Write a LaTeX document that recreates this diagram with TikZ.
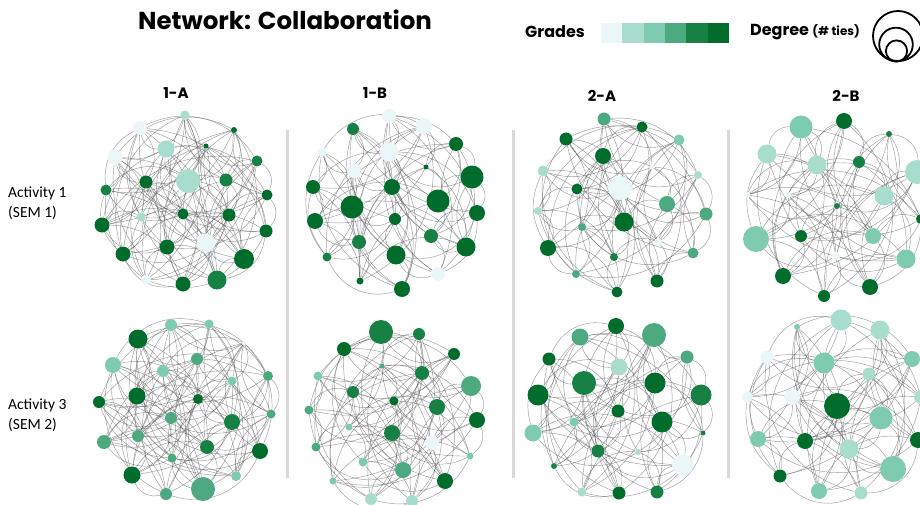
\documentclass[tikz,border=0pt]{standalone}
\usepackage{fontspec}
\usepackage{tikz}
\usetikzlibrary{backgrounds}

\newfontfamily\headfont{Poppins}
\newfontfamily\labfont{Carlito}

\definecolor{g1}{HTML}{EAF6F8}
\definecolor{g2}{HTML}{A8DCCC}
\definecolor{g3}{HTML}{7ECBB0}
\definecolor{g4}{HTML}{4DAA80}
\definecolor{g5}{HTML}{178045}
\definecolor{g6}{HTML}{006D2C}
\definecolor{sepgray}{HTML}{D9D9D9}

\tikzset{
  vtx/.style={circle, inner sep=0pt, draw=none},
  tie/.style={draw=black!65, line width=0.45pt, opacity=0.6},
  ttl/.style={font=\headfont\bfseries\fontsize{24.5}{28}\selectfont},
  legtxt/.style={font=\headfont\bfseries\fontsize{16}{18}\selectfont},
  colhd/.style={font=\headfont\bfseries\fontsize{15}{17}\selectfont},
  rowlab/.style={font=\labfont\fontsize{15.5}{20}\selectfont, align=left, anchor=west, inner sep=0pt},
}

% ties of one network: prefix, number of members, offset/bend pairs
\newcommand\tienet[3]{%
  \foreach \i in {1,...,#2}{
    \foreach \k/\b in {#3}{
      \pgfmathtruncatemacro\j{mod(\i+\k-1,#2)+1}
      \draw[tie] (#1\i) to[bend left=\b] (#1\j);
    }
  }}

\begin{document}
\begin{tikzpicture}[x=1pt,y=1pt,yscale=-1]
\useasboundingbox (0,0) rectangle (920,505);

% Title and legend
\node[ttl] (title) at (285,20) {Network: Collaboration};
\node[legtxt] (grades) at (555,32) {Grades};
\foreach \c [count=\n] in {g1,g2,g3,g4,g5,g6}
  \fill[\c] ({601+21.33*(\n-1)},23) rectangle ++(21.5,20);
\node[legtxt] (degree) at (805,32) {Degree {\fontsize{12}{14}\selectfont(\# ties)}};
\draw[line width=1.8pt] (898,36) circle (25);
\draw[line width=1.8pt] (896,44.5) circle (16.8);
\draw[line width=1.8pt] (896.5,51) circle (10.6);

% Column heads
\node[colhd] (h1a) at (176,93) {1-A};
\node[colhd] (h1b) at (375,93) {1-B};
\node[colhd] (h2a) at (602,96) {2-A};
\node[colhd] (h2b) at (846,96) {2-B};

% Row labels
\node[rowlab] (row1) at (8,203) {Activity 1\\(SEM 1)};
\node[rowlab] (row3) at (8,415) {Activity 3\\(SEM 2)};

% Separators
\foreach \x in {287,513,728}
  \draw[sepgray, line width=3pt] (\x,130) -- (\x,478);

% Network 1-A, activity 1
\foreach \i/\x/\y/\d/\c in {1/185/115/9/g2, 2/140/128/14/g1, 3/234/130/6/g6, 4/206/146/5/g6,
  5/166/149/17/g2, 6/115/157/15/g1, 7/257/161/11/g5, 8/188/181/24/g2, 9/146/182/13/g6,
  10/226/180/13/g5, 11/106/190/11/g5, 12/267/195/11/g6, 13/141/217/9/g2, 14/183/214/11/g6,
  15/229/215/13/g6, 16/102/225/15/g6, 17/266/231/13/g6, 18/206/243/19/g1, 19/167/247/15/g6,
  20/123/254/15/g6, 21/244/259/20/g6, 22/146/280/9/g1, 23/183/284/15/g6, 24/217/280/19/g5}
  \node[vtx, fill=\c, minimum size=\d*1pt] (aa\i) at (\x,\y) {};

% Network 1-B, activity 1
\foreach \i/\x/\y/\d/\c in {1/389/116/14/g1, 2/424/126/16/g1, 3/353/129/12/g5, 4/456/144/14/g6,
  5/322/152/9/g1, 6/389/152/19/g1, 7/426/167/5/g6, 8/354/171/14/g1, 9/472/177/23/g6,
  10/313/187/14/g6, 11/392/187/16/g6, 12/438/201/23/g6, 13/352/207/23/g6, 14/477/213/16/g6,
  15/315/221/16/g6, 16/395/219/12/g6, 17/431/236/14/g5, 18/359/242/14/g5, 19/396/255/19/g6,
  20/466/247/19/g6, 21/327/257/9/g5, 22/438/274/14/g1, 23/360/281/7/g6, 24/402/289/16/g6}
  \node[vtx, fill=\c, minimum size=\d*1pt] (ab\i) at (\x,\y) {};

% Network 2-A, activity 1
\foreach \i/\x/\y/\d/\c in {1/604/119/13/g4, 2/642/127/11/g6, 3/566/139/13/g6, 4/679/140/11/g3,
  5/603/156/16/g6, 6/652/167/5/g1, 7/543/171/11/g2, 8/698/175/8/g2, 9/577/189/11/g6,
  10/620/188/24/g1, 11/667/204/16/g4, 12/538/211/8/g2, 13/706/214/13/g4, 14/624/222/19/g6,
  15/582/227/8/g4, 16/658/242/7/g1, 17/548/248/16/g6, 18/693/253/11/g4, 19/614/257/8/g5,
  20/576/274/8/g4, 21/657/281/13/g6, 22/617/292/11/g6}
  \node[vtx, fill=\c, minimum size=\d*1pt] (ac\i) at (\x,\y) {};

% Network 2-B, activity 1
\foreach \i/\x/\y/\d/\c in {1/801/127/23/g3, 2/844/121/16/g6, 3/889/134/6/g5, 4/767/154/19/g2,
  5/817/165/19/g2, 6/859/162/12/g5, 7/917/172/24/g2, 8/747/195/6/g1, 9/788/195/6/g1,
  10/884/196/19/g2, 11/837/206/6/g5, 12/921/219/10/g6, 13/756/239/26/g3, 14/801/236/12/g6,
  15/873/236/16/g3, 16/836/256/8/g1, 17/906/259/19/g3, 18/783/276/16/g6, 19/870/287/16/g6,
  20/824/296/12/g6}
  \node[vtx, fill=\c, minimum size=\d*1pt] (ad\i) at (\x,\y) {};

% Network 1-A, activity 3
\foreach \i/\x/\y/\d/\c in {1/171/325/12/g3, 2/209/324/9/g3, 3/138/339/19/g6, 4/244/343/4/g1,
  5/113/365/16/g3, 6/197/359/12/g4, 7/163/371/12/g3, 8/268/376/10/g4, 9/232/381/9/g3,
  10/137/396/17/g6, 11/99/402/12/g6, 12/198/399/10/g6, 13/271/414/9/g4, 14/171/418/12/g4,
  15/232/422/16/g5, 16/138/436/12/g4, 17/104/442/14/g4, 18/207/447/14/g5, 19/260/451/16/g6,
  20/172/458/9/g4, 21/132/475/17/g6, 22/236/476/10/g3, 23/203/489/24/g4, 24/166/494/12/g4}
  \node[vtx, fill=\c, minimum size=\d*1pt] (ba\i) at (\x,\y) {};

% Network 1-B, activity 3
\foreach \i/\x/\y/\d/\c in {1/381/332/24/g5, 2/419/334/12/g5, 3/344/349/14/g6, 4/454/354/12/g6,
  5/382/366/5/g4, 6/422/373/14/g5, 7/318/376/9/g3, 8/471/386/20/g4, 9/353/392/12/g5,
  10/394/401/9/g6, 11/437/407/16/g5, 12/309/410/9/g4, 13/477/420/16/g6, 14/349/427/7/g3,
  15/392/433/16/g5, 16/432/443/14/g1, 17/316/447/9/g4, 18/470/456/7/g3, 19/363/462/9/g3,
  20/403/470/16/g4, 21/333/481/7/g3, 22/445/481/16/g6, 23/371/499/12/g2, 24/412/501/12/g2}
  \node[vtx, fill=\c, minimum size=\d*1pt] (bb\i) at (\x,\y) {};

% Network 2-A, activity 3
\foreach \i/\x/\y/\d/\c in {1/616/326/16/g6, 2/654/335/24/g4, 3/580/337/17/g4, 4/549/359/13/g6,
  5/687/357/13/g4, 6/619/367/17/g2, 7/584/383/24/g5, 8/655/383/21/g6, 9/538/395/21/g6,
  10/701/395/21/g5, 11/618/411/13/g6, 12/662/422/21/g6, 13/574/422/9/g3, 14/533/433/17/g3,
  15/703/433/5/g5, 16/598/451/13/g5, 17/638/452/6/g2, 18/554/466/6/g5, 19/683/465/21/g1,
  20/582/492/9/g2, 21/619/493/13/g6, 22/657/492/13/g5}
  \node[vtx, fill=\c, minimum size=\d*1pt] (bc\i) at (\x,\y) {};

% Network 2-B, activity 3
\foreach \i/\x/\y/\d/\c in {1/841/320/21/g2, 2/797/327/6/g3, 3/880/330/19/g2, 4/767/357/13/g1,
  5/824/363/21/g3, 6/912/359/16/g3, 7/869/374/13/g2, 8/747/397/11/g1, 9/792/397/16/g1,
  10/837/406/26/g6, 11/881/418/23/g3, 12/921/397/14/g2, 13/758/439/16/g3, 14/805/441/16/g6,
  15/849/449/19/g2, 16/918/440/16/g6, 17/780/476/13/g6, 18/893/469/26/g3, 19/819/491/16/g3,
  20/861/493/13/g2}
  \node[vtx, fill=\c, minimum size=\d*1pt] (bd\i) at (\x,\y) {};

% Ties, behind the members
\begin{pgfonlayer}{background}
\tienet{aa}{24}{3/40,7/-35,11/28,5/-42,9/34}
\tienet{ab}{24}{3/42,8/-34,11/28,5/-40}
\tienet{ac}{22}{3/40,7/-36,10/28,5/-42}
\tienet{ad}{20}{3/40,7/-36,9/28,4/-42}
\tienet{ba}{24}{3/40,7/-35,11/28,5/-42,9/34}
\tienet{bb}{24}{3/42,8/-34,11/28,5/-40}
\tienet{bc}{22}{3/40,7/-36,10/28,5/-42}
\tienet{bd}{20}{3/40,7/-36,9/28,4/-42}
\end{pgfonlayer}
\end{tikzpicture}
\end{document}
